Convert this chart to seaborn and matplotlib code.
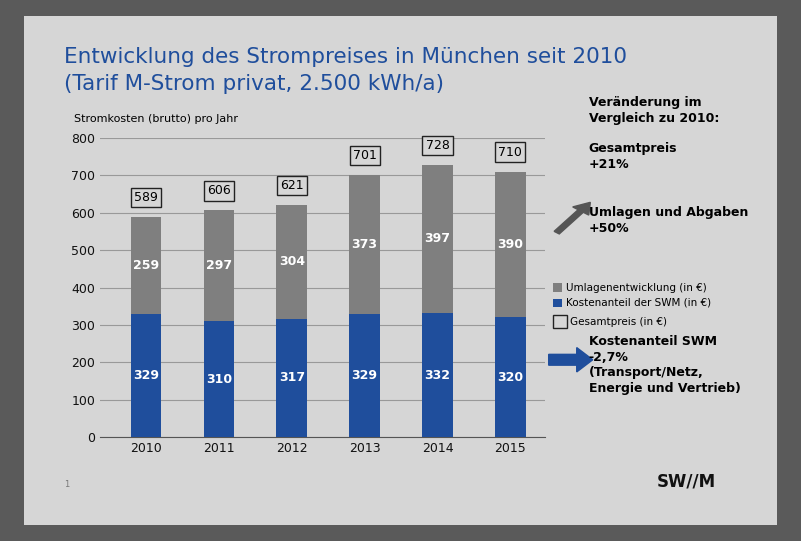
import matplotlib
matplotlib.use("Agg")
import matplotlib.pyplot as plt
import seaborn as sns
import pandas as pd
from matplotlib.patches import Rectangle, FancyArrow

years = ["2010", "2011", "2012", "2013", "2014", "2015"]
swm = [329, 310, 317, 329, 332, 320]
umlagen = [259, 297, 304, 373, 397, 390]
gesamt = [589, 606, 621, 701, 728, 710]

df = pd.DataFrame({"Jahr": years, "SWM": swm, "Umlagen": umlagen, "Gesamt": gesamt})
df["Top"] = df["SWM"] + df["Umlagen"]

fig = plt.figure(figsize=(8.01, 5.41), dpi=100)
fig.patch.set_facecolor("#5a5a5a")
fig.add_artist(Rectangle((0.03, 0.03), 0.94, 0.94, transform=fig.transFigure,
                         facecolor="#d6d6d6", edgecolor="none", zorder=0))

ax = fig.add_axes([0.125, 0.192, 0.555, 0.553])
ax.set_facecolor("none")
sns.barplot(data=df, x="Jahr", y="Top", color="#7f7f7f", width=0.42, ax=ax, saturation=1, zorder=2)
sns.barplot(data=df, x="Jahr", y="SWM", color="#1f4e9c", width=0.42, ax=ax, saturation=1, zorder=3)
ax.set_ylim(0, 800)
ax.set_xlim(-0.63, 5.47)
ax.set_yticks(range(0, 801, 100))
ax.grid(axis="y", color="#999999", linewidth=0.8, zorder=0)
for s in ["top", "right", "left"]:
    ax.spines[s].set_visible(False)
ax.spines["bottom"].set_color("#555555")
ax.tick_params(axis="both", length=0, labelsize=9, colors="#111111")
ax.set_xlabel("")
ax.set_ylabel("")
for i in range(len(years)):
    ax.text(i, swm[i] / 2, str(swm[i]), ha="center", va="center", color="white", fontsize=9, fontweight="bold", zorder=4)
    ax.text(i, swm[i] + umlagen[i] / 2, str(umlagen[i]), ha="center", va="center", color="white", fontsize=9, fontweight="bold", zorder=4)
    ax.text(i, gesamt[i] + 35, str(gesamt[i]), ha="center", va="bottom", fontsize=9,
            bbox=dict(boxstyle="square,pad=0.25", facecolor="#d6d6d6", edgecolor="#222222", linewidth=1), zorder=4)

fig.text(0.08, 0.895, "Entwicklung des Strompreises in München seit 2010", fontsize=15.5, color="#1f4e9c", va="center")
fig.text(0.08, 0.845, "(Tarif M-Strom privat, 2.500 kWh/a)", fontsize=15.5, color="#1f4e9c", va="center")
fig.text(0.093, 0.78, "Stromkosten (brutto) pro Jahr", fontsize=8, va="center")

fig.text(0.735, 0.795, "Veränderung im\nVergleich zu 2010:", fontsize=9, fontweight="bold", va="center", linespacing=1.3)
fig.text(0.735, 0.71, "Gesamtpreis\n+21%", fontsize=9, fontweight="bold", va="center", linespacing=1.3)
fig.text(0.735, 0.592, "Umlagen und Abgaben\n+50%", fontsize=9, fontweight="bold", va="center", linespacing=1.3)
fig.add_artist(FancyArrow(0.695, 0.57, 0.03, 0.04, width=0.008, head_width=0.025, head_length=0.02,
                          transform=fig.transFigure, color="#555555"))

fig.add_artist(Rectangle((0.69, 0.46), 0.012, 0.016, transform=fig.transFigure, facecolor="#7f7f7f"))
fig.text(0.707, 0.468, "Umlagenentwicklung (in €)", fontsize=7.5, va="center")
fig.add_artist(Rectangle((0.69, 0.432), 0.012, 0.016, transform=fig.transFigure, facecolor="#1f4e9c"))
fig.text(0.707, 0.44, "Kostenanteil der SWM (in €)", fontsize=7.5, va="center")
fig.add_artist(Rectangle((0.69, 0.394), 0.018, 0.024, transform=fig.transFigure, facecolor="none", edgecolor="#222222"))
fig.text(0.712, 0.405, "Gesamtpreis (in €)", fontsize=7.5, va="center")

fig.add_artist(FancyArrow(0.685, 0.335, 0.035, 0, width=0.02, head_width=0.045, head_length=0.02,
                          transform=fig.transFigure, color="#1f4e9c"))
fig.text(0.735, 0.325, "Kostenanteil SWM\n-2,7%\n(Transport/Netz,\nEnergie und Vertrieb)", fontsize=9,
         fontweight="bold", va="center", linespacing=1.25)
fig.text(0.08, 0.1, "1", fontsize=6, color="#777777")
fig.text(0.82, 0.1, "SW//M", fontsize=12, fontweight="bold", color="#111111")

fig.savefig("out.png", dpi=100)
